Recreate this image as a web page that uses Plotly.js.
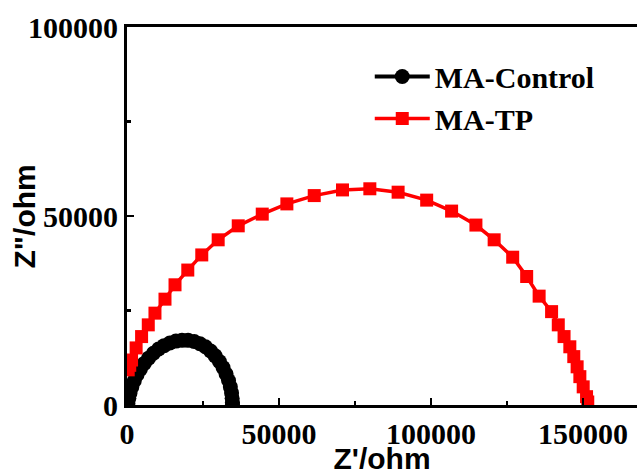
<!DOCTYPE html>
<html>
<head>
<meta charset="utf-8">
<script src="https://cdn.plot.ly/plotly-3.0.1.min.js"></script>
<style>html,body{margin:0;padding:0;background:#fff;}#chart{width:637px;height:475px;}</style>
</head>
<body>
<div id="chart"></div>
<script>
// MA-Control (black circles)
const controlX = [300, 600, 1000, 1600, 2400, 3300, 4400, 5700, 7100, 8700, 10400, 12200, 14100, 16100, 18100, 20100, 22100, 24000, 25800, 27500, 29000, 30400, 31600, 32600, 33400, 34000, 34400, 34600, 34700, 34700];
const controlY = [500, 1800, 3200, 4800, 6400, 8000, 9500, 11000, 12400, 13700, 14800, 15700, 16400, 16900, 17100, 17100, 16800, 16200, 15400, 14300, 13000, 11500, 9900, 8200, 6500, 4800, 3200, 1800, 700, 100];
// MA-TP (red squares)
const tpX = [400, 900, 1500, 3000, 4800, 7000, 9200, 12500, 15800, 20000, 24600, 30000, 36600, 44500, 52600, 61600, 70900, 79900, 89200, 98600, 106800, 114800, 120800, 126900, 131500, 135600, 139700, 141900, 143800, 145700, 147000, 148100, 149000, 150100, 151200, 151600];
const tpY = [9300, 10500, 11900, 15100, 18100, 21200, 24300, 28000, 31800, 35700, 39700, 43700, 47400, 50500, 53200, 55400, 56900, 57200, 56300, 54200, 51300, 47600, 43700, 39100, 34000, 28800, 24700, 21200, 18100, 15400, 12800, 10100, 7500, 4800, 2200, 800];

const seriesNames = ['MA-Control', 'MA-TP'];
const xTickVals = [0, 50000, 100000, 150000];
const xTickText = ['0', '50000', '100000', '150000'];
const xMinorVals = [25000, 75000, 125000];
const yTickVals = [0, 50000, 100000];
const yTickText = ['0', '50000', '100000'];
const yMinorVals = [25000, 75000];
const xTitle = "Z'/ohm";
const yTitle = 'Z"/ohm';

const serif = {family: 'Liberation Serif, Times New Roman, serif', size: 30, color: '#000', weight: 'bold'};
const sans = {family: 'Liberation Sans, Arial, sans-serif', size: 30, color: '#000', weight: 'bold'};

const traces = [
  {x: controlX, y: controlY, name: seriesNames[0], mode: 'lines+markers', type: 'scatter',
   line: {color: '#000000', width: 4}, marker: {symbol: 'circle', size: 15, color: '#000000'}},
  {x: tpX, y: tpY, name: seriesNames[1], mode: 'lines+markers', type: 'scatter',
   line: {color: '#ff0000', width: 3.5}, marker: {symbol: 'square', size: 13, color: '#ff0000'}}
];

const layout = {
  width: 637, height: 475,
  margin: {l: 127, r: 0, t: 27, b: 70},
  paper_bgcolor: '#fff', plot_bgcolor: '#fff',
  showlegend: true,
  legend: {x: 0.476, y: 0.938, xanchor: 'left', yanchor: 'top', font: serif, bgcolor: 'rgba(0,0,0,0)',
           tracegroupgap: 0, itemwidth: 55},
  xaxis: {range: [0, 167800], showgrid: false, zeroline: false, showline: true, linewidth: 3, linecolor: '#000',
          mirror: true, ticks: 'inside', ticklen: 7, tickwidth: 2.5, tickcolor: '#000',
          tickvals: xTickVals, ticktext: xTickText, tickfont: serif,
          minor: {tickvals: xMinorVals, ticks: 'inside', ticklen: 4, tickwidth: 2.5, tickcolor: '#000'},
          title: {text: xTitle, font: sans, standoff: 7}},
  yaxis: {range: [0, 100000], showgrid: false, zeroline: false, showline: true, linewidth: 3, linecolor: '#000',
          mirror: false, ticks: 'inside', ticklen: 7, tickwidth: 2.5, tickcolor: '#000',
          tickvals: yTickVals, ticktext: yTickText, tickfont: serif,
          minor: {tickvals: yMinorVals, ticks: 'inside', ticklen: 4, tickwidth: 2.5, tickcolor: '#000'}},
  annotations: [
    {text: yTitle, xref: 'paper', yref: 'paper', x: -0.201, y: 0.5, xanchor: 'center', yanchor: 'middle',
     textangle: -90, showarrow: false, font: sans}
  ]
};

Plotly.newPlot('chart', traces, layout, {displayModeBar: false, staticPlot: true});
</script>
</body>
</html>
